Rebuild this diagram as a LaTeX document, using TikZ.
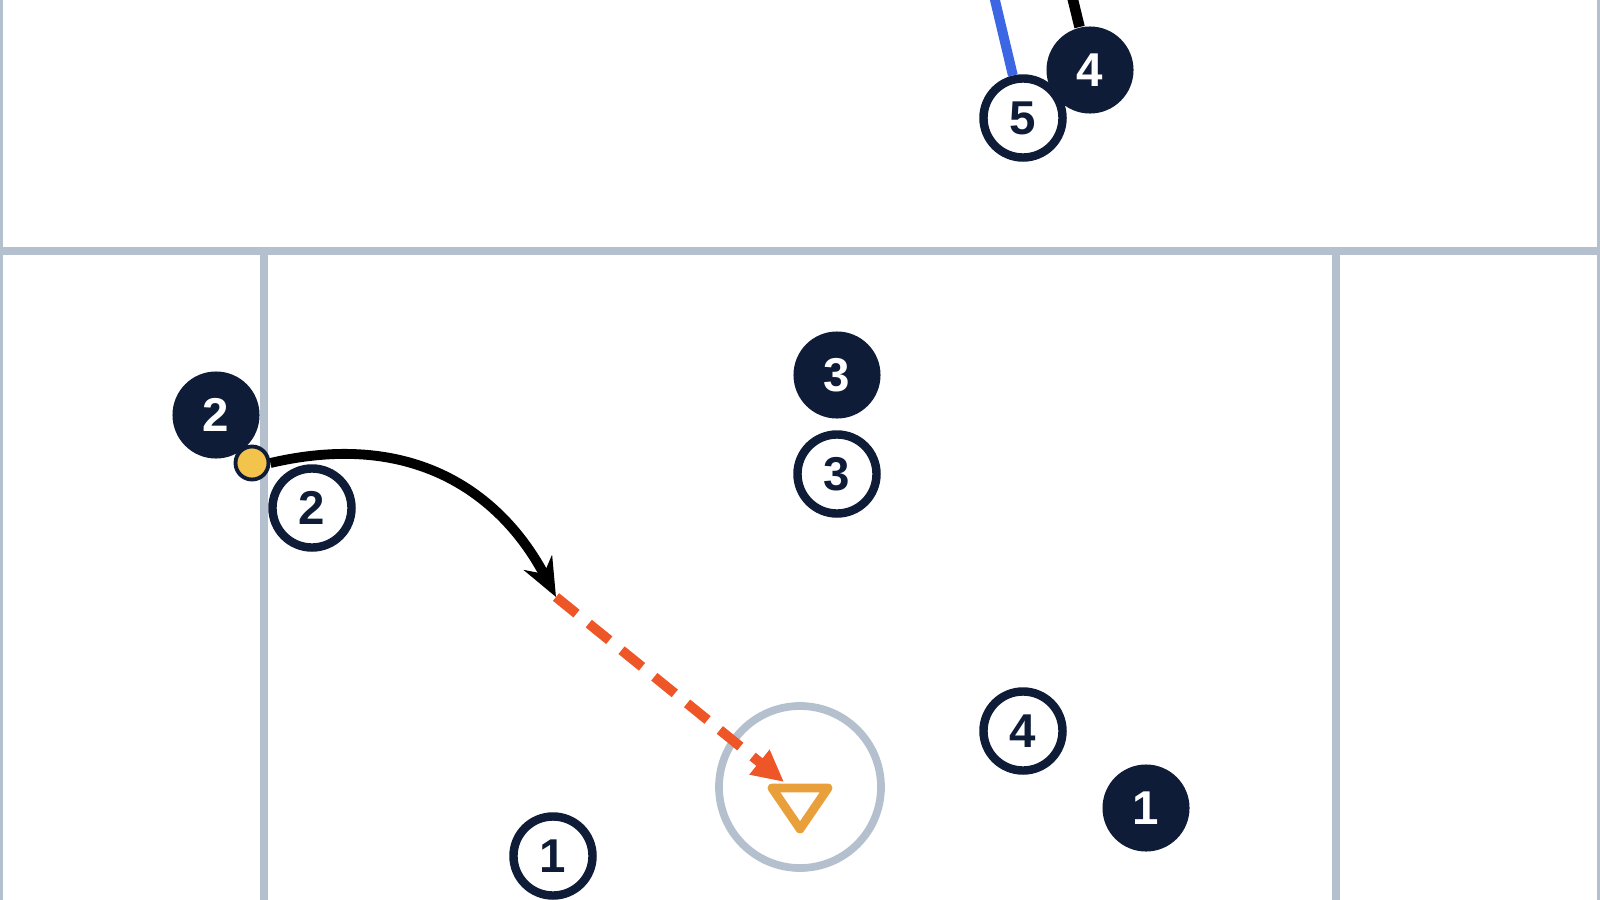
\documentclass[tikz,border=0pt]{standalone}
\usepackage{fontspec}
\setmainfont{Liberation Sans}
\usetikzlibrary{arrows.meta}
\definecolor{navy}{HTML}{0F1C38}
\definecolor{fieldgray}{HTML}{B5C0CE}
\definecolor{runblue}{HTML}{3D66E4}
\definecolor{passred}{HTML}{EE5628}
\definecolor{coneorange}{HTML}{EAA03A}
\definecolor{ballyellow}{HTML}{F2C44B}
\tikzset{
  darkdot/.style={circle, fill=navy, text=white, minimum size=0.87cm, inner sep=0pt,
    font=\fontsize{13.5}{15}\selectfont\bfseries},
  ringdot/.style={circle, draw=navy, line width=2.4pt, fill=white, text=navy,
    minimum size=0.79cm, inner sep=0pt, font=\fontsize{13.5}{15}\selectfont\bfseries},
  fieldline/.style={draw=fieldgray, line width=2.2pt},
}
\begin{document}
\begin{tikzpicture}[x=0.01cm, y=-0.01cm]
\useasboundingbox (0,0) rectangle (1600,900);
\def\crease{(800,787) circle (81)}

% field
\draw[fieldgray, line width=1pt] (1,0) -- (1,900) (1599,0) -- (1599,900);
\draw[fieldline] (0,251) -- (1600,251);
\draw[fieldline] (264,251) -- (264,900);
\draw[fieldline] (1336,251) -- (1336,900);
\draw[fieldline] \crease node (crease) {};

% goal
\coordinate (gl) at (772,788);
\coordinate (gr) at (828,788);
\coordinate (gb) at (800,829);
\draw[coneorange, line width=2.5pt, line join=round] (gl) -- (gr) -- (gb) -- cycle;

% players up top
\node[darkdot] (d4) at (1090,70) {4};
\node[ringdot] (o5) at (1023,118) {5};
\coordinate (run5) at (994,-4);
\coordinate (run4) at (1072,-4);
\draw[runblue, line width=2.8pt] (run5) -- (o5);
\draw[black, line width=3pt] (run4) -- (d4);

% players below
\node[darkdot] (d3) at (837,375) {3};
\node[ringdot] (o3) at (837,474) {3};
\node[darkdot] (d2) at (216,415) {2};
\node[ringdot] (o2) at (312,508) {2};
\node[ringdot] (o4) at (1023,731) {4};
\node[darkdot] (d1) at (1146,808) {1};
\node[ringdot] (o1) at (553,856) {1};

% ball and play
\node[circle, fill=ballyellow, draw=navy, line width=1.1pt, minimum size=0.33cm,
  inner sep=0pt] (ball) at (252,463) {};
\coordinate (catch) at (556,597);
\coordinate (shot) at (784,782);
\draw[black, line width=2.8pt, -{Stealth[length=11pt,width=9pt]}]
  (ball.east) .. controls (420,428) and (505,500) .. (catch);
\draw[passred, line width=2.8pt, dash pattern=on 7.5pt off 4.5pt,
  -{Triangle[length=9pt,width=8.5pt]}] (catch) -- (shot);
\end{tikzpicture}
\end{document}
